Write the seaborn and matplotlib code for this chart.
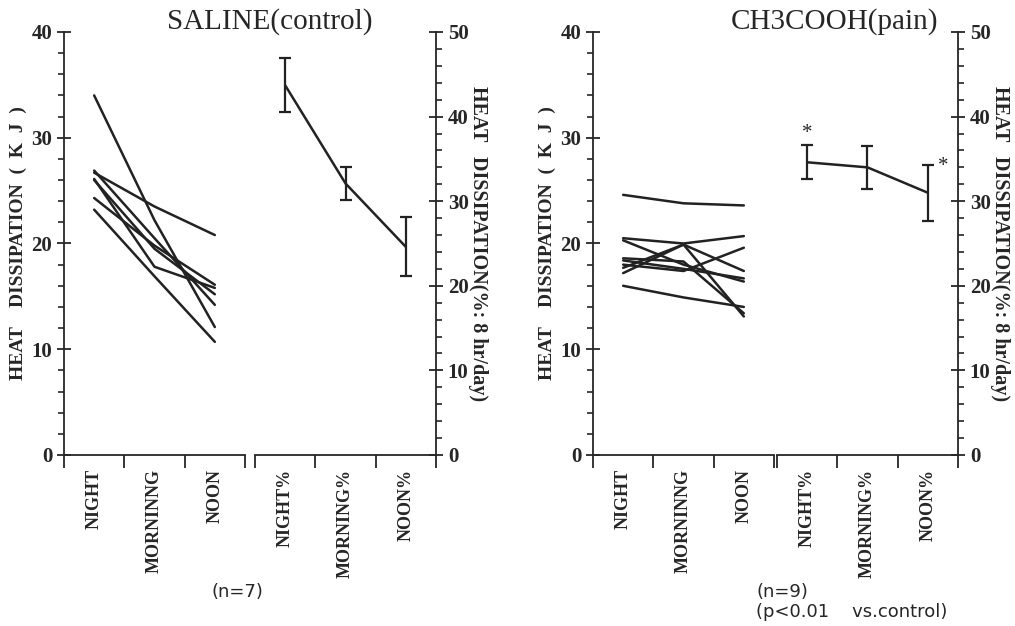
import pandas as pd
import seaborn as sns
import matplotlib.pyplot as plt
from matplotlib.ticker import MultipleLocator, FixedLocator, NullFormatter

# time points and their labels
times = ['NIGHT', 'MORNINNG', 'NOON']
pct_times = ['NIGHT%', 'MORNING%', 'NOON%']

# individual heat dissipation (KJ), one row per animal
saline_kj = [
    [34.0, 22.2, 12.1],
    [26.7, 23.5, 20.8],
    [26.9, 20.5, 14.2],
    [26.1, 17.8, 15.8],
    [26.0, 19.5, 15.2],
    [24.3, 19.8, 16.1],
    [23.2, 16.9, 10.7],
]
acid_kj = [
    [24.6, 23.8, 23.6],
    [16.0, 14.9, 14.0],
    [20.5, 20.0, 20.7],
    [20.3, 18.0, 16.4],
    [17.2, 19.9, 17.4],
    [17.7, 19.9, 13.1],
    [18.6, 18.3, 13.4],
    [18.0, 17.4, 19.6],
    [18.4, 17.6, 16.7],
]

# % of 8 hr/day, mean and error
saline_pct = [43.7, 32.1, 24.6]
saline_err = [3.2, 2.0, 3.5]
acid_pct = [34.6, 34.0, 31.0]
acid_err = [2.0, 2.5, 3.3]

sns.set_style("ticks")
plt.rcParams['font.family'] = ['Liberation Serif', 'DejaVu Serif']
plt.rcParams['axes.linewidth'] = 1.3

col = '#222222'

fig = plt.figure(figsize=(10.15, 6.26), dpi=100)
bottom, height = 1 - 455 / 626, (455 - 32) / 626


def long_df(rows):
    recs = []
    for i, r in enumerate(rows):
        for t, v in zip(times, r):
            recs.append({'id': i, 'time': t, 'kj': v})
    return pd.DataFrame(recs)


def style_x(ax, labels):
    ax.set_xlim(-0.5, 2.5)
    ax.xaxis.set_major_locator(FixedLocator([-0.5, 0.5, 1.5, 2.5]))
    ax.xaxis.set_major_formatter(NullFormatter())
    ax.xaxis.set_minor_locator(FixedLocator([0, 1, 2]))
    ax.set_xticks([0, 1, 2], labels, minor=True)
    ax.tick_params(axis='x', which='major', direction='out', length=9, width=1.3)
    ax.tick_params(axis='x', which='minor', length=0, pad=10)
    for lab in ax.get_xticklabels(minor=True):
        lab.set_rotation(90)
        lab.set_va('top')
        lab.set_ha('center')
        lab.set_fontweight('bold')
        lab.set_fontsize(13)
    ax.set_xlabel('')


def panel(x0, x1, x2, rows, pct, err, title, tx, stars=False):
    axl = fig.add_axes([x0 / 1015, bottom, (x1 - x0) / 1015, height])
    axr = fig.add_axes([x2 / 1015, bottom, (x1 - x0) / 1015, height])

    df = long_df(rows)
    sns.lineplot(data=df, x='time', y='kj', units='id', estimator=None,
                 color=col, lw=1.8, ax=axl, sort=False)
    axl.set_ylim(0, 40)
    axl.yaxis.set_major_locator(MultipleLocator(10))
    axl.yaxis.set_minor_locator(MultipleLocator(2))
    axl.tick_params(axis='y', which='major', direction='inout', length=10, width=1.3,
                    labelsize=15)
    axl.tick_params(axis='y', which='minor', direction='out', length=4, width=1.2)
    for lab in axl.get_yticklabels():
        lab.set_fontweight('bold')
    axl.set_ylabel('HEAT    DISSIPATION  (  K  J  )', fontsize=14, fontweight='bold',
                   va='center')
    axl.yaxis.set_label_coords(-0.255, 0.5)
    sns.despine(ax=axl, top=True, right=True)
    style_x(axl, times)

    pdf = pd.DataFrame({'time': pct_times, 'pct': pct, 'err': err})
    sns.lineplot(data=pdf, x='time', y='pct', color=col, lw=1.8, ax=axr, sort=False)
    axr.errorbar(range(3), pdf['pct'], yerr=pdf['err'], fmt='none',
                 ecolor=col, elinewidth=1.6, capsize=4, capthick=1.6)
    axr.set_ylim(0, 50)
    axr.yaxis.tick_right()
    axr.yaxis.set_label_position('right')
    axr.yaxis.set_major_locator(MultipleLocator(10))
    axr.yaxis.set_minor_locator(MultipleLocator(2))
    axr.tick_params(axis='y', which='major', direction='inout', length=10, width=1.3,
                    labelsize=15)
    axr.tick_params(axis='y', which='minor', direction='out', length=4, width=1.2)
    for lab in axr.get_yticklabels():
        lab.set_fontweight('bold')
    axr.set_ylabel('HEAT   DISSIPATION(%: 8 hr/day)', fontsize=14.5, fontweight='bold',
                   rotation=-90, va='center')
    axr.yaxis.set_label_coords(1.23, 0.5)
    axr.spines['left'].set_visible(False)
    axr.spines['top'].set_visible(False)
    style_x(axr, pct_times)

    if stars:
        axr.annotate('*', (0, pct[0] + err[0]), xytext=(0, 2), textcoords='offset points',
                     ha='center', va='bottom', fontsize=15)
        axr.annotate('*', (2, pct[2] + err[2]), xytext=(7, -8), textcoords='offset points',
                     ha='left', va='bottom', fontsize=15)

    fig.text(tx / 1015, 1 - 22 / 626, title, ha='center', va='center', fontsize=21)
    return axl, axr


panel(64, 245, 255, saline_kj, saline_pct, saline_err, 'SALINE(control)', 270)
panel(593, 774, 777, acid_kj, acid_pct, acid_err, 'CH3COOH(pain)', 835, stars=True)

fig.text(237 / 1015, 1 - 592 / 626, '(n=7)', ha='center', va='center', fontsize=13,
         family='DejaVu Sans')
fig.text(782 / 1015, 1 - 592 / 626, '(n=9)', ha='center', va='center', fontsize=13,
         family='DejaVu Sans')
fig.text(852 / 1015, 1 - 612 / 626, '(p<0.01    vs.control)', ha='center', va='center',
         fontsize=13, family='DejaVu Sans')

fig.savefig('out.png', dpi=100)
